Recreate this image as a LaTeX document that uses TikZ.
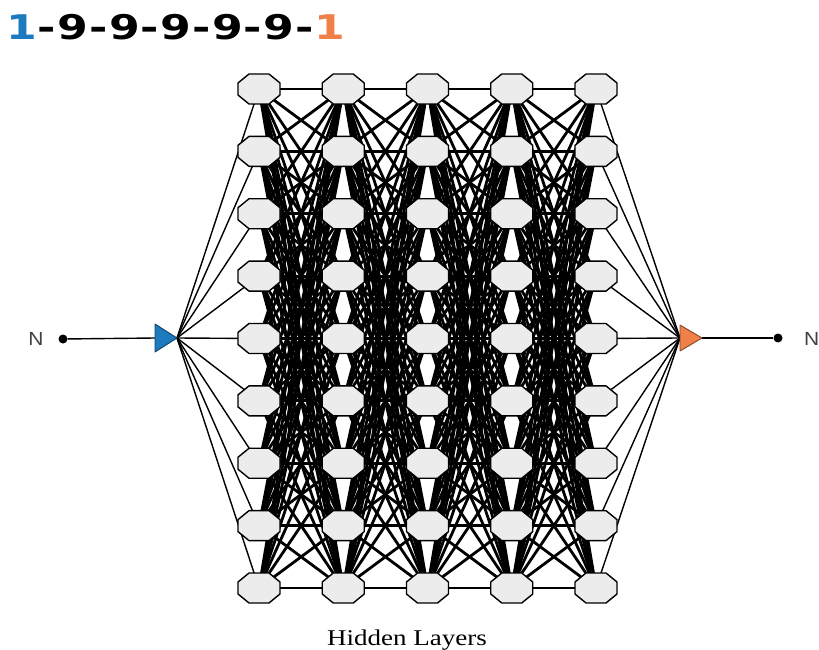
\documentclass[tikz,border=0pt]{standalone}
\usepackage{fontspec}
\setmainfont{Liberation Serif}
\newfontfamily\headfont{DejaVu Sans}
\newfontfamily\tagfont{Liberation Sans}
\usetikzlibrary{backgrounds}

\definecolor{inblue}{RGB}{28,122,190}
\definecolor{outorange}{RGB}{238,128,72}
\definecolor{cellfill}{RGB}{236,236,236}

\tikzset{
  % a neuron is an empty 42x30 box; its octagon outline is drawn on top of it
  neuron/.style={rectangle, minimum width=42pt, minimum height=30pt, inner sep=0pt},
  octagon/.style={draw=black, line width=1.4pt, fill=cellfill, line join=round},
  wire/.style={black, line width=2.8pt},
  thinwire/.style={black, line width=1.4pt},
  terminal/.style={circle, fill=black, inner sep=0pt, minimum size=9pt},
  headchar/.style={anchor=base, inner sep=0pt, font=\headfont\bfseries\fontsize{34}{34}\selectfont, xscale=1.3},
  portlabel/.style={inner sep=0pt, text=black!75, font=\tagfont\fontsize{19}{19}\selectfont, xscale=1.1},
}

\begin{document}
\begin{tikzpicture}[x=1pt,y=-1pt]
\useasboundingbox (0,0) rectangle (819,650);

% title: layer sizes
\foreach \ch/\px/\col in {1/22/inblue, -/47/black, 9/73/black, -/99/black, 9/125/black,
    -/150/black, 9/176/black, -/202/black, 9/228/black, -/253/black, 9/279/black,
    -/305/black, 1/330/outorange}
  \node[headchar, text=\col] at (\px,40) {\ch};

% hidden neurons: 5 layers of 9
\foreach \c in {1,...,5}
  \foreach \r in {1,...,9} {
    \node[neuron] (h-\c-\r) at ({259+84.25*(\c-1)}, {89+62.375*(\r-1)}) {};
    \draw[octagon] (h-\c-\r.center) ++(-10,-15) -- ++(20,0) -- ++(11,9) -- ++(0,12)
      -- ++(-11,9) -- ++(-20,0) -- ++(-11,-9) -- ++(0,-12) -- cycle;
  }

% input side
\node[portlabel] (nin) at (36,339) {N};
\node[terminal] (xin) at (63,339) {};
\coordinate (inbase) at (155,338);
\coordinate (intip) at (177,338);

% output side
\coordinate (outbase) at (680,338);
\coordinate (outtip) at (702,338);
\node[terminal] (xout) at (778,338) {};
\node[portlabel, anchor=west] (nout) at (804,339) {N};

\begin{scope}[on background layer]
  % full connections between neighbouring hidden layers
  \foreach \c [evaluate=\c as \n using int(\c+1)] in {1,...,4}
    \foreach \a in {1,...,9}
      \foreach \b in {1,...,9}
        \draw[wire] (h-\c-\a.center) -- (h-\n-\b.center);
  \foreach \r in {1,...,9} {
    \draw[thinwire] (intip) -- (h-1-\r.center);
    \draw[thinwire] (h-5-\r.center) -- (outbase);
  }
  \draw[thinwire] (xin) -- (inbase);
  \draw[thinwire] (outtip) -- (xout);
\end{scope}

% input / output units
\draw[fill=inblue, draw=inblue!55!black, line width=0.9pt, line join=round]
  (155,324) -- (intip) -- (155,352) -- cycle;
\draw[fill=outorange, draw=outorange!55!black, line width=0.9pt, line join=round]
  (680,325) -- (outtip) -- (680,351) -- cycle;

\node[anchor=base, font=\fontsize{22.5}{22.5}\selectfont, xscale=1.2] (cap) at (407,645) {Hidden Layers};
\end{tikzpicture}
\end{document}
